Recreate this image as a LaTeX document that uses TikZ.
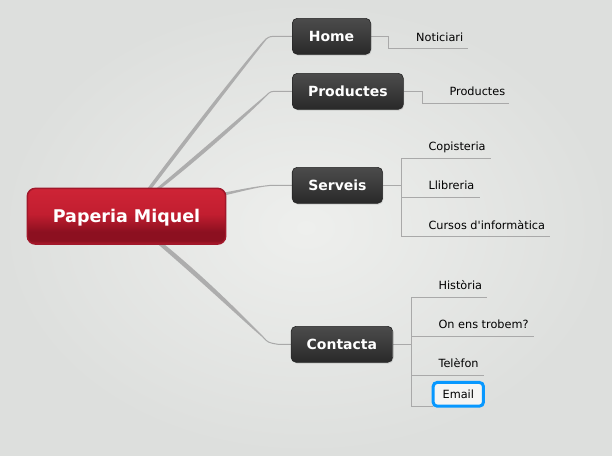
\documentclass[tikz,border=0pt]{standalone}
\usepackage{fontspec}
\setmainfont{DejaVu Sans}
\usetikzlibrary{calc,shadows}
\definecolor{bgin}{HTML}{EEEFED}
\definecolor{bgout}{HTML}{DDDFDD}
\definecolor{mtop}{HTML}{4C4C4C}
\definecolor{mbot}{HTML}{292929}
\definecolor{mbord}{HTML}{252525}
\definecolor{rtop}{HTML}{CE2436}
\definecolor{rmid}{HTML}{C21E30}
\definecolor{rdark}{HTML}{8C1020}
\definecolor{rbot}{HTML}{B21A2B}
\definecolor{rbord}{HTML}{A1172A}
\definecolor{linkc}{HTML}{A9A9A9}
\definecolor{taperc}{HTML}{ADADAD}
\definecolor{emailblue}{HTML}{0898FF}
\pgfdeclareverticalshading{rootshade}{100bp}{color(0bp)=(rbot); color(25bp)=(rbot); color(28bp)=(rdark); color(36bp)=(rdark); color(52bp)=(rmid); color(75bp)=(rtop); color(100bp)=(rtop)}
\pgfdeclarelayer{bg}
\pgfdeclarelayer{lines}
\pgfsetlayers{bg,lines,main}
\tikzset{
  mainbox/.style={rounded corners=5pt, minimum height=36pt, inner sep=0pt,
    top color=mtop, bottom color=mbot, draw=mbord, line width=0.6pt,
    text=white, font=\fontsize{14}{16}\selectfont\bfseries,
    text height=10.2pt, text depth=0pt,
    drop shadow={opacity=0.25, shadow xshift=0.8pt, shadow yshift=-1.2pt}},
  rootbox/.style={rounded corners=8pt, minimum width=198.4pt, minimum height=55.7pt,
    inner sep=0pt, shading=rootshade, draw=rbord, line width=1.5pt,
    text=white, font=\fontsize{17.5}{20}\selectfont\bfseries,
    text height=12.8pt, text depth=0pt},
  subtopic/.style={anchor=west, inner sep=0pt, text height=8pt, text depth=0pt,
    minimum height=23pt, font=\fontsize{11.3}{13}\selectfont, text=black},
  link/.style={draw=linkc, line width=1pt},
  taper/.style={fill=taperc},
}
\begin{document}
\begin{tikzpicture}[x=1pt,y=-1pt]
\begin{pgfonlayer}{bg}
\fill[inner color=bgin, outer color=bgout] (0,0) rectangle (612,455);
\end{pgfonlayer}
\useasboundingbox (0,0) rectangle (612,455);

% root and main topics
\node[rootbox] (root) at (126.5,216.2) {Paperia Miquel};
\node[mainbox, minimum width=78.4pt] (home) at (331.5,36.3) {Home};
\node[mainbox, minimum width=111pt] (prod) at (347.8,91.3) {Productes};
\node[mainbox, minimum width=90.4pt] (serv) at (337.4,185.3) {Serveis};
\node[mainbox, minimum width=101.6pt] (cont) at (341.9,344.3) {Contacta};

% subtopics
\node[subtopic] (noti) at (416,37) {Noticiari};
\node[subtopic] (prodsub) at (449.3,91.7) {Productes};
\node[subtopic] (copi) at (428.3,146.8) {Copisteria};
\node[subtopic] (llib) at (428.3,185.8) {Llibreria};
\node[subtopic] (curs) at (428.3,225.2) {Cursos d\textquotesingle informàtica};
\node[subtopic] (hist) at (438.3,285.8) {Història};
\node[subtopic] (onens) at (438.3,324.8) {On ens trobem?};
\node[subtopic] (tel) at (438.3,363.8) {Telèfon};
\node[draw=emailblue, line width=3pt, rounded corners=4pt, minimum width=50.3pt,
  minimum height=23.7pt, inner sep=0pt, outer sep=0pt, text height=8pt, text depth=0pt,
  font=\fontsize{11.3}{13}\selectfont, fill=bgin!60!white] (email) at (458.3,394.3) {Email};

% root-to-topic connectors (tapered)
\begin{pgfonlayer}{lines}
\fill[taper] (144.8,192) .. controls (200,118) and (256,48) .. (265.6,38.6)
  -- (266.6,39.4) .. controls (258,50) and (203,121) .. (149,192) -- cycle;
\coordinate (hbend) at (266.1,39);
\draw[link] (hbend) .. controls (270,36.3) .. (278,36.3) -- (home.west);

\fill[taper] (154.5,190) .. controls (200,152) and (248,110) .. (265.6,95.4)
  -- (266.4,96.2) .. controls (251,112) and (204,155) .. (159,190) -- cycle;
\coordinate (pbend) at (266,95.8);
\draw[link] (pbend) .. controls (270.5,91.3) .. (278,91.3) -- (prod.west);

\fill[taper] (222,193) .. controls (240,189.5) and (255,186.5) .. (266,185.4)
  -- (266,186.4) .. controls (255,187.8) and (240,191.8) .. (222,196) -- cycle;
\coordinate (sbend) at (266,185.9);
\draw[link] (sbend) .. controls (270,185.3) .. (278,185.3) -- (serv.west);

\fill[taper] (153,240) .. controls (200,280) and (240,318) .. (262.6,337.4)
  -- (263.4,336.6) .. controls (243,316) and (205,277) .. (159,240) -- cycle;
\coordinate (cbend) at (263,337);
\draw[link] (cbend) .. controls (268,342.6) .. (278,344.3) -- (cont.west);

% topic-to-subtopic connectors
\coordinate (jh) at ($(home.east)+(17.5,0)$);
\draw[link] (home.east) -- (jh) |- ([xshift=5pt]noti.south east);

\coordinate (jp) at ($(prod.east)+(18.4,0)$);
\draw[link] (prod.east) -- (jp) |- ([xshift=4pt]prodsub.south east);

\coordinate (js) at ($(serv.east)+(18.1,0)$);
\draw[link] (serv.east) -- (js);
\draw[link] (js) |- ([xshift=5pt]copi.south east);
\draw[link] (js) |- ([xshift=5pt]llib.south east);
\draw[link] (js) |- ([xshift=5pt]curs.south east);

\coordinate (jc) at ($(cont.east)+(18,0)$);
\draw[link] (cont.east) -- (jc);
\draw[link] (jc) |- ([xshift=5pt]hist.south east);
\draw[link] (jc) |- ([xshift=5pt]onens.south east);
\draw[link] (jc) |- ([xshift=5pt]tel.south east);
\draw[link] (jc) |- (email.south west);
\end{pgfonlayer}
\end{tikzpicture}
\end{document}
